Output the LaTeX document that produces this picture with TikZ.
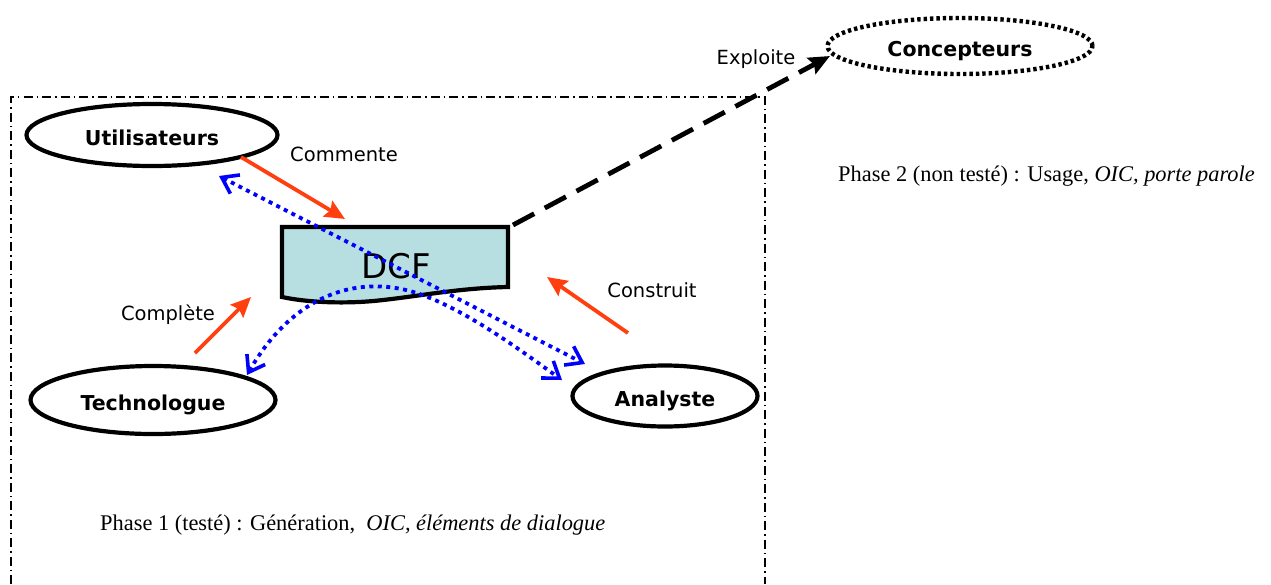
\documentclass[tikz,border=0pt]{standalone}
\usepackage{fontspec}
\setmainfont{Liberation Serif}
\newfontfamily\hand{DejaVu Sans}
\usetikzlibrary{shapes.geometric,arrows.meta}
\definecolor{dcffill}{HTML}{B7DFE2}
\definecolor{redarrow}{HTML}{FF3F10}
\definecolor{bluearrow}{HTML}{0000FF}
\tikzset{
  actor/.style={ellipse, draw, line width=4.2pt, inner sep=0pt,
    text height=20pt, text depth=0pt,
    font=\hand\bfseries\fontsize{20.5}{22}\selectfont},
  verb/.style={font=\hand\fontsize{19.5}{22}\selectfont, inner sep=0pt},
  phase/.style={font=\fontsize{22.4}{25}\selectfont, inner sep=0pt, anchor=base west},
  action/.style={draw=redarrow, line width=3.8pt,
    -{Stealth[length=20pt,width=18pt,inset=3pt,fill=redarrow]}},
  vtip/.tip={Straight Barb[length=15pt,width=21pt,line width=3.6pt]},
  link/.style={draw=bluearrow, line width=3.8pt, dash pattern=on 4pt off 4.5pt,
    vtip-vtip},
  frame/.style={line width=1.5pt, dash pattern=on 9pt off 4pt on 1.5pt off 4pt},
}
\begin{document}
\begin{tikzpicture}[x=1pt,y=-1pt]
\useasboundingbox (0,0) rectangle (1271,584);

% phase 1 frame, open at the bottom
\draw[frame] (11,584) -- (11,97) -- (765,97) -- (765,584);

% actors
\node[actor, minimum width=251pt, minimum height=62pt] (util) at (152,135) {Utilisateurs};
\node[actor, minimum width=245pt, minimum height=68pt] (tech) at (153,400) {Technologue};
\node[actor, minimum width=185pt, minimum height=61pt] (anal) at (665,396) {Analyste};
\node[actor, line width=4.4pt, dash pattern=on 3.4pt off 3pt, minimum width=265pt, minimum height=56pt] (conc) at (960,46) {Concepteurs};

% the document shape
\draw[line width=4.2pt, fill=dcffill] (282,227) -- (508,227) -- (508,287)
  .. controls (460,288) and (420,296) .. (383,300)
  .. controls (350,304) and (310,303) .. (282,297) -- cycle;
\node[font=\hand\fontsize{34}{38}\selectfont, inner sep=0pt] (dcf) at (396,266) {DCF};

% connector end points
\coordinate (c1s) at (241,157);  \coordinate (c1e) at (345,219);
\coordinate (c2s) at (195,353);  \coordinate (c2e) at (251,297);
\coordinate (c3s) at (628,333);  \coordinate (c3e) at (547,277);
\coordinate (exs) at (513,225);  \coordinate (exe) at (830,56);
\coordinate (l1a) at (219,176);  \coordinate (l1b) at (585,364);
\coordinate (l2a) at (247,375);  \coordinate (l2b) at (562,380);

% red actions
\draw[action] (c1s) -- (c1e);
\draw[action] (c2s) -- (c2e);
\draw[action] (c3s) -- (c3e);

% exploitation by the designers
\draw[line width=4.8pt, dash pattern=on 24pt off 12pt,
  -{Stealth[length=21pt,width=18pt,inset=3pt]}] (exs) -- (exe);

% blue exchanges
\draw[link] (l1a) -- (l1b);
\draw[link] (l2a) .. controls (290,300) and (350,275) .. (410,291)
  .. controls (460,305) and (520,350) .. (l2b);

% verbs
\node[verb] (commente) at (344,154) {Commente};
\node[verb] (complete) at (168,315) {Complète};
\node[verb] (construit) at (652,290) {Construit};
\node[verb] (exploite) at (756,59) {Exploite};

% phase captions
\node[phase] (ph1) at (100,530) {Phase 1 (testé) : Génération,\ \ \textit{OIC, éléments de dialogue}};
\node[phase] (ph2) at (838,181) {Phase 2 (non testé) : Usage, \textit{OIC, porte parole}};
\end{tikzpicture}
\end{document}
